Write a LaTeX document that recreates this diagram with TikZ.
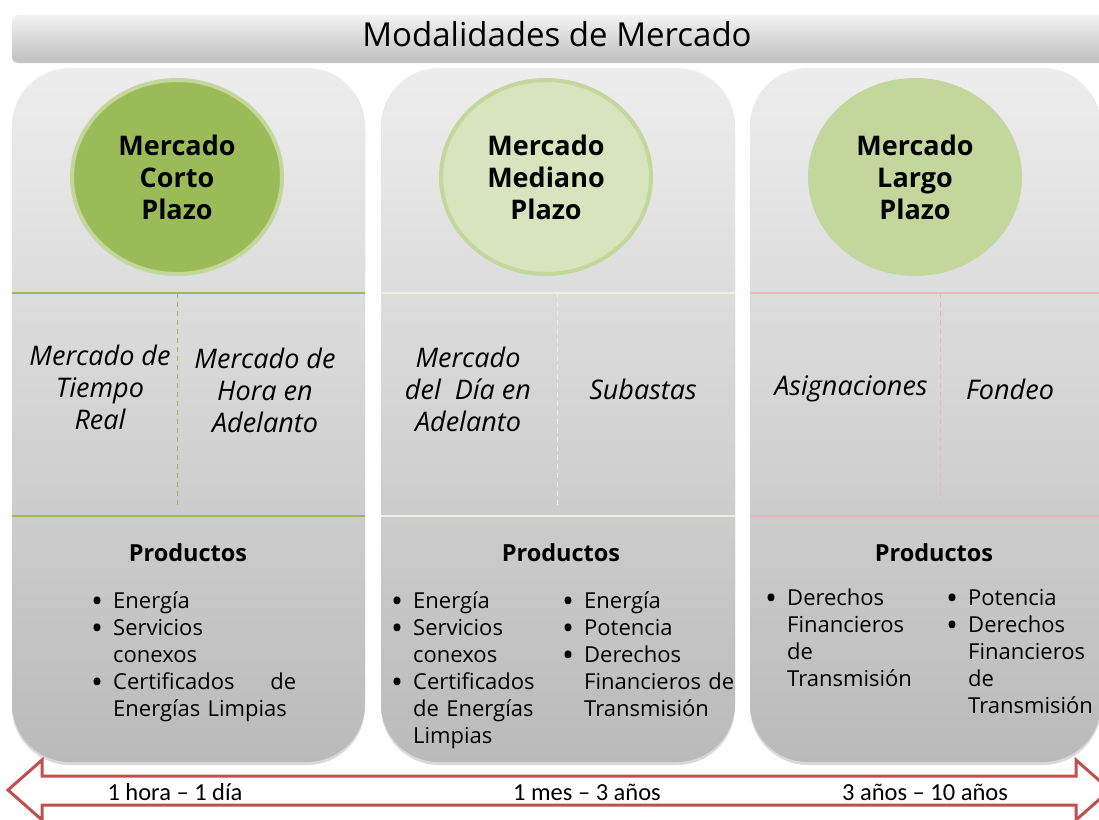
\documentclass[tikz,border=0pt]{standalone}
\usepackage{fontspec}
\setmainfont{Open Sans}
\newfontfamily\lblfont{Carlito}
\usepackage{tikz}
\usetikzlibrary{shapes.geometric,shadows}

\definecolor{verdeA}{HTML}{9BBB59}
\definecolor{verdeB}{HTML}{C3D69B}
\definecolor{verdeC}{HTML}{D7E4BD}
\definecolor{cremaL}{HTML}{EBF1DE}
\definecolor{rosaL}{HTML}{E6B9B8}
\definecolor{rojoF}{HTML}{C0504D}

\newcommand{\bul}[1]{\hangindent=22pt\hangafter=1\noindent
    \makebox[22pt][l]{\raisebox{-4pt}[0pt][0pt]{\scalebox{1.45}{\textbullet}}}#1\par}

\begin{document}
\begin{tikzpicture}[x=1pt, y=-1pt,
    titlebar/.style={rounded corners=6pt, top color=black!5, bottom color=black!24,
        drop shadow={opacity=0.45, shadow xshift=0pt, shadow yshift=-3pt}},
    panel/.style={rounded corners=58pt, top color=black!7, bottom color=black!27,
        drop shadow={opacity=0.3, shadow xshift=0pt, shadow yshift=-3pt}},
    mkt/.style={ellipse, minimum width=210, minimum height=194, line width=4pt,
        align=center, font=\fontsize{27}{32}\selectfont\bfseries},
    mid/.style={align=center, inner sep=0, font=\fontsize{27}{32}\selectfont\itshape},
    prod/.style={inner sep=0, font=\fontsize{23.5}{26}\selectfont\bfseries},
    lista/.style={anchor=base west, inner sep=0, align=left, font=\fontsize{22}{27}\selectfont},
    tlabel/.style={inner sep=0, font=\fontsize{24.5}{26}\selectfont\lblfont}]

    \useasboundingbox (0,0) rectangle (1099,819);

    % title
    \path[titlebar] (12,15) rectangle (1112,60);
    \node[inner sep=0, font=\fontsize{33}{36}\selectfont] (titulo) at (557,34) {Modalidades de Mercado};

    % panels
    \path[panel] (12,68) rectangle (365,762);
    \path[panel] (381,68) rectangle (735,762);
    \path[panel] (750,68) rectangle (1101,762);

    % circles
    \node[mkt, fill=verdeA, draw=verdeB] (corto) at (177,177) {Mercado\\Corto\\Plazo};
    \node[mkt, fill=verdeC, draw=verdeB] (mediano) at (546,177) {Mercado\\Mediano\\Plazo};
    \node[mkt, fill=verdeB, draw=verdeB] (largo) at (915,177) {Mercado\\Largo\\Plazo};

    % separators
    \draw[verdeA, line width=1.2pt] (12,293) -- (365,293);
    \draw[verdeA, line width=1.2pt] (12,516) -- (365,516);
    \draw[verdeA, line width=0.8pt, dash pattern=on 5pt off 4pt] (177,293) -- (177,508);
    \draw[cremaL, line width=1.2pt] (381,293) -- (735,293);
    \draw[cremaL, line width=1.2pt] (381,516) -- (735,516);
    \draw[cremaL, line width=0.8pt, dash pattern=on 5pt off 4pt] (557,293) -- (557,508);
    \draw[rosaL, line width=1.2pt] (750,293) -- (1101,293);
    \draw[rosaL, line width=1.2pt] (750,516) -- (1101,516);
    \draw[rosaL, line width=0.8pt, dash pattern=on 5pt off 4pt] (940,293) -- (940,508);

    % market names
    \node[mid] (tiempo) at (100,387) {Mercado de\\Tiempo\\Real};
    \node[mid] (hora) at (265,390) {Mercado de\\Hora en\\Adelanto};
    \node[mid] (dia) at (468,389) {Mercado\\del~ Día en\\Adelanto};
    \node[mid] (subastas) at (643,389) {Subastas};
    \node[mid] (asig) at (851,389) {Asignaciones};
    \node[mid] (fondeo) at (1010,389) {Fondeo};

    % products
    \node[prod] (prodA) at (188,553) {Productos};
    \node[prod] (prodB) at (561,553) {Productos};
    \node[prod] (prodC) at (934,553) {Productos};

    \node[lista, text width=205] (listaA) at (91,608)
        {\bul{Energía}\bul{Servicios\newline conexos}\bul{Certificados\hfill de\newline Energías Limpias}};
    \node[lista, text width=165] (listaB1) at (391,608)
        {\bul{Energía}\bul{Servicios\newline conexos}\bul{Certificados\newline de Energías\newline Limpias}};
    \node[lista, text width=190] (listaB2) at (562,608)
        {\bul{Energía}\bul{Potencia}\bul{Derechos\newline Financieros de\newline Transmisión}};
    \node[lista, text width=175] (listaC1) at (765,605)
        {\bul{Derechos\newline Financieros\newline de\newline Transmisión}};
    \node[lista, text width=165] (listaC2) at (946,605)
        {\bul{Potencia}\bul{Derechos\newline Financieros\newline de\newline Transmisión}};

    % time arrow
    \draw[rojoF, line width=3pt, fill=white, line join=miter]
        (8,790) -- (42,760) -- (42,776) -- (1076,776) -- (1076,760) -- (1110,790)
        -- (1076,820) -- (1076,805) -- (42,805) -- (42,820) -- cycle;
    \node[tlabel] (plazoA) at (175,792) {1 hora – 1 día};
    \node[tlabel] (plazoB) at (587,792) {1 mes – 3 años};
    \node[tlabel] (plazoC) at (925,792) {3 años – 10 años};
\end{tikzpicture}
\end{document}
